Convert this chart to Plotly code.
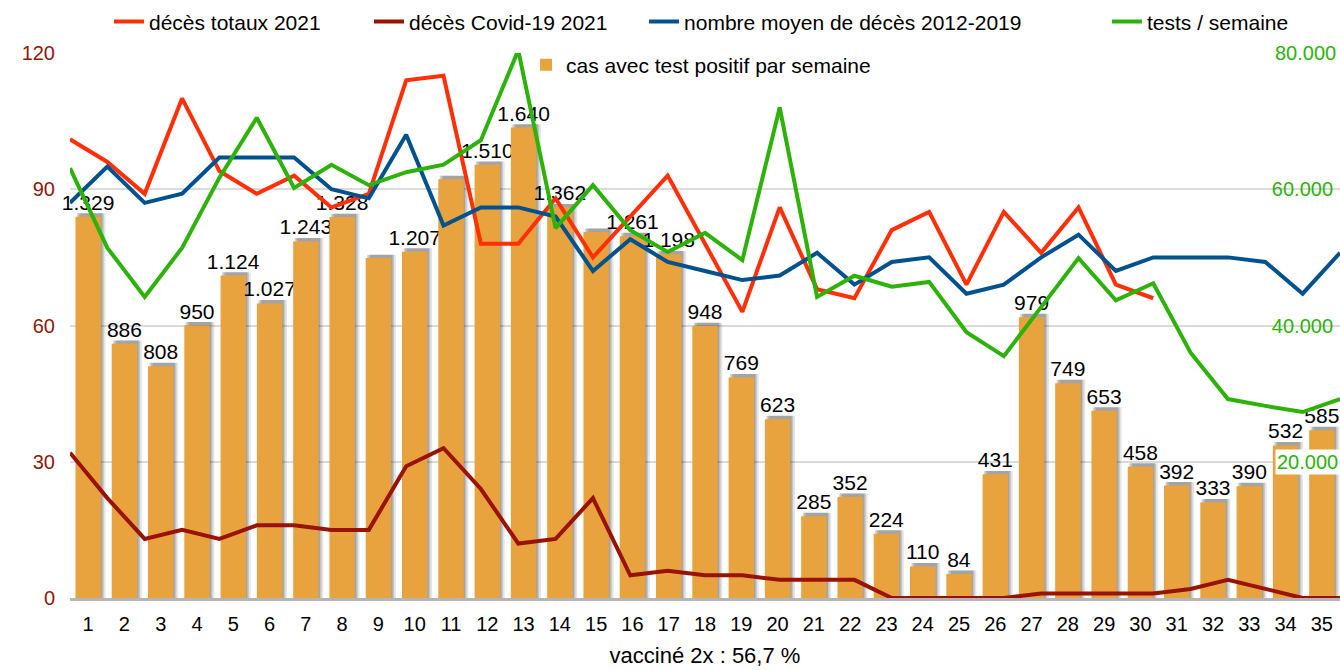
import plotly.graph_objects as go

# semaines
semaines = list(range(1, 36))

# cas avec test positif par semaine (barres)
cas_positifs = [1329, 886, 808, 950, 1124, 1027, 1243, 1328, 1185, 1207,
                1460, 1510, 1640, 1362, 1276, 1261, 1198, 948, 769, 623,
                285, 352, 224, 110, 84, 431, 979, 749, 653, 458,
                392, 333, 390, 532, 585]
# semaines dont l'étiquette n'apparaît pas
sans_etiquette = [9, 11, 15]

# décès totaux 2021 (jusqu'à la semaine 30)
deces_totaux = [101, 96, 89, 110, 94, 89, 93, 86, 89, 114,
                115, 78, 78, 88, 75, 84, 93, 78, 63, 86,
                68, 66, 81, 85, 69, 85, 76, 86, 69, 66]

# décès Covid-19 2021
deces_covid = [32, 22, 13, 15, 13, 16, 16, 15, 15, 29,
               33, 24, 12, 13, 22, 5, 6, 5, 5, 4,
               4, 4, 0, 0, 0, 0, 1, 1, 1, 1,
               2, 4, 2, 0, 0]

# nombre moyen de décès 2012-2019
deces_moyens = [87, 95, 87, 89, 97, 97, 97, 90, 88, 102,
                82, 86, 86, 84, 72, 79, 74, 72, 70, 71,
                76, 69, 74, 75, 67, 69, 75, 80, 72, 75,
                75, 75, 74, 67, 76]

# tests / semaine
tests = [63100, 51400, 44200, 51400, 61700, 70500, 60200, 63600, 60600, 62500,
         63600, 67200, 80400, 54300, 60600, 54000, 50800, 53600, 49600, 72000,
         44200, 47300, 45700, 46400, 39000, 35500, 42700, 49900, 43700, 46200,
         36000, 29200, 28200, 27300, 29200]

ticks_gauche = [0, 30, 60, 90, 120]
ticks_droite = [40000, 60000]

ROUGE = '#ff3008'
ROUGE_FONCE = '#9a1300'
BLEU = '#00528f'
VERT = '#2db20a'
ORANGE = '#e8a33e'
FONT = 'Liberation Sans, Arial, sans-serif'

etiquettes = ['' if s in sans_etiquette else f'{v:,}'.replace(',', '.')
              for s, v in zip(semaines, cas_positifs)]

fig = go.Figure()

# ombres des barres
for dx, alpha in [(0.13, 0.10), (0.08, 0.14), (0.04, 0.16)]:
    fig.add_trace(go.Bar(x=semaines, y=[v + 12 for v in cas_positifs],
                         width=0.7, offset=-0.35 + dx,
                         marker_color=f'rgba(0,0,0,{alpha})', marker_line_width=0,
                         showlegend=False, hoverinfo='skip', yaxis='y'))

fig.add_trace(go.Bar(x=semaines, y=cas_positifs, name='cas avec test positif par semaine',
                     width=0.7, offset=-0.35,
                     marker_color=ORANGE, marker_line_width=0,
                     text=etiquettes, textposition='outside', cliponaxis=False,
                     constraintext='none',
                     textfont=dict(size=21, color='black', family=FONT),
                     legend='legend5', yaxis='y'))

fig.add_trace(go.Scatter(x=semaines[:len(deces_totaux)], y=deces_totaux, name='décès totaux 2021',
                         mode='lines', line=dict(color=ROUGE, width=4),
                         xaxis='x2', yaxis='y2', legend='legend'))
fig.add_trace(go.Scatter(x=semaines, y=deces_covid, name='décès Covid-19 2021',
                         mode='lines', line=dict(color=ROUGE_FONCE, width=4),
                         xaxis='x2', yaxis='y2', legend='legend2'))
fig.add_trace(go.Scatter(x=semaines, y=deces_moyens, name='nombre moyen de décès 2012-2019',
                         mode='lines', line=dict(color=BLEU, width=4),
                         xaxis='x2', yaxis='y2', legend='legend3'))
fig.add_trace(go.Scatter(x=semaines, y=tests, name='tests / semaine',
                         mode='lines', line=dict(color=VERT, width=4),
                         xaxis='x2', yaxis='y3', legend='legend4'))

# étiquettes de l'axe droit aux bords : 80.000 en haut, 20.000 sur fond blanc
fig.add_annotation(x=1, xref='paper', xanchor='right', y=80000, yref='y3',
                   text='80.000', showarrow=False, xshift=-2,
                   font=dict(size=20, color=VERT, family=FONT))
fig.add_annotation(x=1, xref='paper', xanchor='right', y=20000, yref='y3',
                   text='20.000', showarrow=False, bgcolor='white',
                   font=dict(size=20, color=VERT, family=FONT))

leg = dict(orientation='h', bgcolor='rgba(0,0,0,0)', yanchor='middle', xanchor='left',
           font=dict(size=21, color='black', family=FONT))

fig.update_layout(
    width=1340, height=670,
    margin=dict(l=70, r=0, t=53, b=72),
    plot_bgcolor='white', paper_bgcolor='white',
    separators=',.',
    barmode='overlay',
    font=dict(family=FONT, size=20, color='black'),
    xaxis=dict(range=[0.5, 35.5], tickvals=semaines, showgrid=False,
               showline=True, linecolor='#b5b5b5', linewidth=3,
               ticks='outside', ticklen=6, tickcolor='rgba(0,0,0,0)',
               tickfont=dict(size=20, color='black'),
               title=dict(text='vacciné 2x : 56,7 %', font=dict(size=22, color='black'), standoff=14)),
    xaxis2=dict(range=[1, 35], overlaying='x', visible=False),
    yaxis=dict(range=[0, 1900], visible=False),
    yaxis2=dict(range=[0, 120], overlaying='y', side='left', tickvals=ticks_gauche,
                showgrid=True, gridcolor='#dadada', gridwidth=2, zeroline=False,
                ticklabelstandoff=14,
                tickfont=dict(size=20, color='#8c1a0c')),
    yaxis3=dict(range=[0, 80000], overlaying='y', side='right', tickvals=ticks_droite,
                tickformat=',d', ticklabelposition='inside', ticklabelstandoff=4,
                showgrid=False, zeroline=False,
                tickfont=dict(size=20, color=VERT)),
    legend=dict(leg, x=0.0307, y=1.057),
    legend2=dict(leg, x=0.2354, y=1.057),
    legend3=dict(leg, x=0.452, y=1.057),
    legend4=dict(leg, x=0.8165, y=1.057),
    legend5=dict(leg, x=0.3591, y=0.978),
)

fig.write_html('out.html', config={'displayModeBar': False},
               post_script="document.body.style.margin='0';")
